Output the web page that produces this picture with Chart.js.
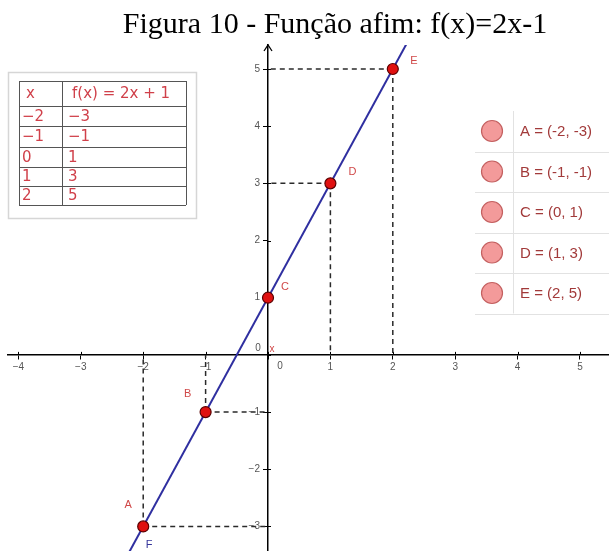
<!DOCTYPE html>
<html lang="pt">
<head>
<meta charset="utf-8">
<title>Função afim</title>
<script src="https://cdn.jsdelivr.net/npm/chart.js@4"></script>
<style>
  html, body { margin: 0; padding: 0; background: #fff; }
  #wrap { width: 609px; height: 551px; }
</style>
</head>
<body>
<div id="wrap"><canvas id="chart" width="609" height="551"></canvas></div>
<script>
// Points of f(x) = 2x + 1
const pointNames = ['A', 'B', 'C', 'D', 'E'];
const xValues = [-2, -1, 0, 1, 2];
const fValues = [-3, -1, 1, 3, 5];

// Ends of the drawn line (beyond the visible area, clipped)
const lineX = [-2.4, 2.4];
const lineY = [-3.8, 5.8];

// Axis tick labels
const xTicks = [-4, -3, -2, -1, 0, 1, 2, 3, 4, 5];
const yTicks = [-3, -2, -1, 0, 1, 2, 3, 4, 5];

// Visible window
const xRange = [-4.167, 5.465];
const yRange = [-3.43, 5.42];

const titleText = 'Figura 10 - Função afim: f(x)=2x-1';
const tableHeader = ['x', 'f(x) = 2x + 1'];

const minus = v => String(v).replace('-', '\u2212');

const pointData = xValues.map((x, i) => ({ x: x, y: fValues[i] }));

// Dashed guides from each point to both axes
const guideSets = [];
xValues.forEach((x, i) => {
  if (x === 0) return;
  const y = fValues[i];
  [[{ x: x, y: y }, { x: x, y: 0 }], [{ x: x, y: y }, { x: 0, y: y }]].forEach(seg => {
    guideSets.push({
      type: 'line',
      data: seg,
      borderColor: '#2a2a2a',
      borderWidth: 1.5,
      borderDash: [5, 4],
      pointRadius: 0,
      fill: false,
      order: 3
    });
  });
});

const overlay = {
  id: 'overlay',
  beforeDatasetsDraw(chart) {
    const ctx = chart.ctx;
    const sx = chart.scales.x, sy = chart.scales.y;
    const ox = sx.getPixelForValue(0), oy = sy.getPixelForValue(0);
    ctx.save();
    // short tick marks on the other side of each axis
    ctx.strokeStyle = '#000';
    ctx.lineWidth = 1;
    ctx.beginPath();
    sx.ticks.forEach(t => {
      const px = Math.round(sx.getPixelForValue(t.value)) + 0.5;
      ctx.moveTo(px, oy);
      ctx.lineTo(px, oy - 3);
    });
    sy.ticks.forEach(t => {
      const py = Math.round(sy.getPixelForValue(t.value)) + 0.5;
      ctx.moveTo(ox, py);
      ctx.lineTo(ox + 3, py);
    });
    ctx.stroke();
    ctx.restore();
  },
  afterDraw(chart) {
    const ctx = chart.ctx;
    const sx = chart.scales.x, sy = chart.scales.y;
    const ox = sx.getPixelForValue(0), oy = sy.getPixelForValue(0);
    ctx.save();

    // title
    ctx.fillStyle = '#000';
    ctx.font = '30px "Liberation Serif"';
    ctx.textAlign = 'center';
    ctx.textBaseline = 'alphabetic';
    ctx.fillText(titleText, 335, 33);

    // arrow at the top of the y axis
    const top = chart.chartArea.top;
    ctx.strokeStyle = '#000';
    ctx.lineWidth = 1.3;
    ctx.beginPath();
    ctx.moveTo(ox - 4, top + 6);
    ctx.lineTo(ox, top);
    ctx.lineTo(ox + 4, top + 6);
    ctx.stroke();

    // y tick labels, left of the axis
    ctx.font = '10px "Liberation Sans"';
    ctx.fillStyle = '#555';
    ctx.textAlign = 'right';
    ctx.textBaseline = 'middle';
    sy.ticks.forEach(t => {
      if (t.value === 0) return;
      ctx.fillText(minus(t.value), ox - 8, sy.getPixelForValue(t.value));
    });

    // origin labels
    ctx.textAlign = 'center';
    ctx.fillText('0', ox - 10, oy - 7);
    ctx.fillText('0', ox + 12, oy + 11);
    ctx.fillStyle = '#d04848';
    ctx.fillText('x', ox + 4, oy - 6);

    // point labels
    ctx.font = '11px "Liberation Sans"';
    ctx.fillStyle = '#d04848';
    const offs = [[-15, -21], [-18, -18], [17, -11], [22, -11], [21, -8]];
    pointNames.forEach((n, i) => {
      const px = sx.getPixelForValue(xValues[i]);
      const py = sy.getPixelForValue(fValues[i]);
      ctx.fillText(n, px + offs[i][0], py + offs[i][1]);
    });
    // line label
    ctx.fillStyle = '#34349a';
    ctx.fillText('F', sx.getPixelForValue(xValues[0]) + 6, sy.getPixelForValue(fValues[0]) + 19);

    // value table
    ctx.fillStyle = '#fff';
    ctx.fillRect(8, 72, 188, 146);
    ctx.strokeStyle = '#d6d6d6';
    ctx.lineWidth = 1.5;
    ctx.strokeRect(8.5, 72.5, 188, 146);
    const colX = [19, 62, 186];
    const rowY = [81, 106, 126, 147, 167, 186, 205];
    ctx.strokeStyle = '#555';
    ctx.lineWidth = 1;
    ctx.beginPath();
    rowY.forEach(y => { ctx.moveTo(colX[0], y + 0.5); ctx.lineTo(colX[2], y + 0.5); });
    colX.forEach(x => { ctx.moveTo(x + 0.5, rowY[0]); ctx.lineTo(x + 0.5, rowY[rowY.length - 1]); });
    ctx.stroke();
    ctx.fillStyle = '#d0404a';
    ctx.font = '15px "DejaVu Sans"';
    ctx.textAlign = 'left';
    ctx.textBaseline = 'middle';
    ctx.fillText(tableHeader[0], 26, (rowY[0] + rowY[1]) / 2 + 1);
    ctx.fillText(tableHeader[1], 72, (rowY[0] + rowY[1]) / 2 + 1);
    xValues.forEach((x, i) => {
      const cy = (rowY[i + 1] + rowY[i + 2]) / 2 + 1;
      ctx.fillText(minus(x), 22, cy);
      ctx.fillText(minus(fValues[i]), 68, cy);
    });

    // algebra list of points
    const listTop = 111, rowH = 40.5;
    ctx.strokeStyle = '#e2e2e2';
    ctx.lineWidth = 1;
    ctx.beginPath();
    ctx.moveTo(513.5, listTop);
    ctx.lineTo(513.5, listTop + rowH * pointNames.length);
    for (let i = 1; i <= pointNames.length; i++) {
      const y = Math.round(listTop + rowH * i) + 0.5;
      ctx.moveTo(475, y);
      ctx.lineTo(609, y);
    }
    ctx.stroke();
    ctx.font = '15px "Liberation Sans"';
    ctx.textAlign = 'left';
    ctx.textBaseline = 'middle';
    pointNames.forEach((n, i) => {
      const cy = listTop + rowH * i + 20;
      ctx.beginPath();
      ctx.arc(492, cy, 10.5, 0, Math.PI * 2);
      ctx.fillStyle = '#f39a9a';
      ctx.fill();
      ctx.strokeStyle = '#c46060';
      ctx.lineWidth = 1.2;
      ctx.stroke();
      ctx.fillStyle = '#a23a3a';
      ctx.fillText(n + ' = (' + xValues[i] + ', ' + fValues[i] + ')', 520, cy + 1);
    });

    ctx.restore();
  }
};

const tickFont = { family: '"Liberation Sans"', size: 10 };

new Chart(document.getElementById('chart'), {
  type: 'scatter',
  data: {
    datasets: [
      {
        label: 'pontos',
        data: pointData,
        backgroundColor: '#e01010',
        borderColor: '#5a0000',
        borderWidth: 1.2,
        pointRadius: 5.5,
        pointHoverRadius: 5.5,
        showLine: false,
        order: 1
      },
      {
        type: 'line',
        label: 'f',
        data: lineX.map((x, i) => ({ x: x, y: lineY[i] })),
        borderColor: '#2f2fa0',
        borderWidth: 2,
        pointRadius: 0,
        fill: false,
        order: 2
      },
      ...guideSets
    ]
  },
  options: {
    responsive: false,
    animation: false,
    devicePixelRatio: 1,
    layout: { autoPadding: false, padding: { left: 8, right: 0, top: 45, bottom: 0 } },
    plugins: {
      legend: { display: false },
      tooltip: { enabled: false },
      title: { display: false }
    },
    scales: {
      x: {
        type: 'linear',
        position: { y: 0 },
        min: xRange[0],
        max: xRange[1],
        afterBuildTicks: s => { s.ticks = xTicks.map(v => ({ value: v })); },
        grid: { drawOnChartArea: false, drawTicks: true, tickLength: 4, color: '#000' },
        border: { display: true, color: '#000', width: 1.5 },
        ticks: {
          autoSkip: false,
          maxRotation: 0,
          padding: 2,
          color: '#555',
          font: tickFont,
          callback: v => (v === 0 ? '' : minus(v))
        }
      },
      y: {
        type: 'linear',
        position: { x: 0 },
        min: yRange[0],
        max: yRange[1],
        afterBuildTicks: s => { s.ticks = yTicks.map(v => ({ value: v })); },
        grid: { drawOnChartArea: false, drawTicks: true, tickLength: 4, color: '#000' },
        border: { display: true, color: '#000', width: 1.5 },
        ticks: { display: false }
      }
    }
  },
  plugins: [overlay]
});
</script>
</body>
</html>
